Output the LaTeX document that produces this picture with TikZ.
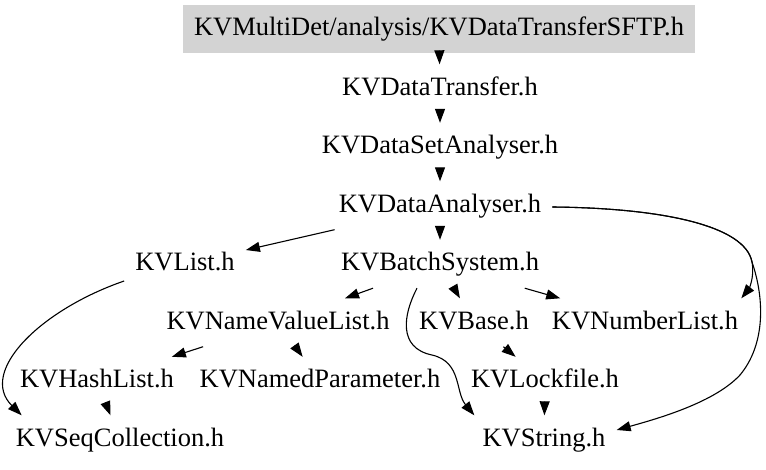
\documentclass[tikz,border=0pt]{standalone}
\usepackage{fontspec}
\setmainfont{Liberation Serif}
\newfontfamily\dotfont{Liberation Serif}
\usetikzlibrary{arrows.meta}
\definecolor{boxgray}{RGB}{211,211,211}
\begin{document}
\begin{tikzpicture}[x=1pt,y=-1pt,
  file/.style={font=\dotfont\fontsize{26.5}{30}\selectfont, text height=18pt, text depth=5pt,
    minimum height=48pt, inner xsep=11pt, inner ysep=0pt},
  topfile/.style={file, fill=boxgray, minimum width=512pt},
  dep/.style={line width=1.1pt, -{Triangle[length=14pt,width=10pt]}}]
\useasboundingbox (0,0) rectangle (766,469);
\node[topfile] (top) at (439,29) {KVMultiDet/analysis/KVDataTransferSFTP.h};
\node[file] (dt) at (440,88.5) {KVDataTransfer.h};
\node[file] (dsa) at (440,147) {KVDataSetAnalyser.h};
\node[file] (da) at (440,205.5) {KVDataAnalyser.h};
\node[file] (list) at (185,264) {KVList.h};
\node[file] (bs) at (440,264) {KVBatchSystem.h};
\node[file] (nvl) at (278,322.5) {KVNameValueList.h};
\node[file] (base) at (474,322.5) {KVBase.h};
\node[file] (nl) at (645,322.5) {KVNumberList.h};
\node[file] (hash) at (97,381) {KVHashList.h};
\node[file] (np) at (320,381) {KVNamedParameter.h};
\node[file] (lock) at (545,381) {KVLockfile.h};
\node[file] (seq) at (120,439.5) {KVSeqCollection.h};
\node[file] (str) at (544,439.5) {KVString.h};

\draw[dep] (top) -- (dt);
\draw[dep] (dt) -- (dsa);
\draw[dep] (dsa) -- (da);
\draw[dep] (da) -- (list);
\draw[dep] (da) -- (bs);
\draw[dep] ([yshift=-1.5pt]da.east) .. controls (660,208) and (745,225) .. (752,262)
  .. controls (755,278) and (748,290) .. ([xshift=-8pt]nl.north east);
\draw[dep] ([yshift=-1.5pt]da.east) .. controls (660,208) and (745,225) .. (752,262)
  .. controls (765,300) and (765,345) .. (740,375)
  .. controls (715,402) and (660,418) .. ([yshift=9.5pt]str.east);
\draw[dep] (bs) -- (nvl);
\draw[dep] (bs) -- (base);
\draw[dep] (bs) -- (nl);
\draw[dep] ([xshift=-23pt]bs.south) .. controls (403,315) and (398,348) .. (432,355)
  .. controls (462,362) and (455,392) .. ([xshift=3pt]str.north west);
\draw[dep] ([yshift=-17pt]list.west) .. controls (40,310) and (-22,372) .. ([xshift=17pt]seq.north west);
\draw[dep] (nvl) -- (hash);
\draw[dep] (nvl) -- (np);
\draw[dep] (hash) -- (seq);
\draw[dep] (base) -- (lock);
\draw[dep] (lock) -- (str);
\end{tikzpicture}
\end{document}
